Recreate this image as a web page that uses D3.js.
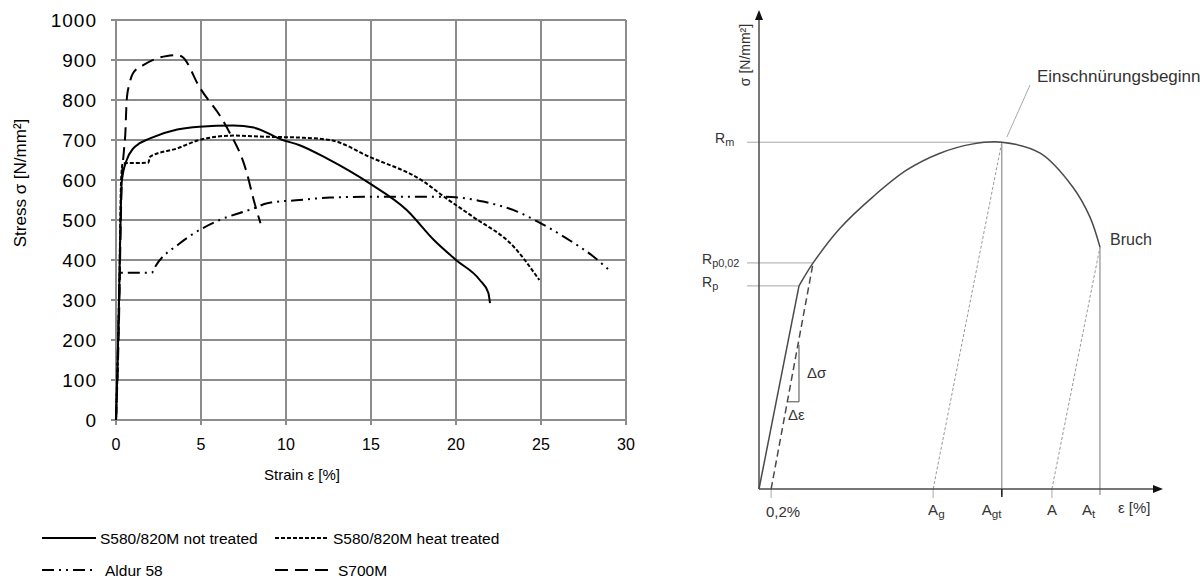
<!DOCTYPE html>
<html>
<head>
<meta charset="utf-8">
<script src="https://cdn.jsdelivr.net/npm/d3@7"></script>
<style>
  body { margin: 0; background: #fff; }
  svg { display: block; font-family: "Liberation Sans", Arial, sans-serif; }
</style>
</head>
<body>
<svg id="chart" width="1200" height="583"></svg>
<script>
// ---- left chart: measured curves [strain %, stress N/mm²] ----
const notTreated = [[0,0],[0.1,150],[0.2,350],[0.3,560],[0.35,600],[0.63,650],[1.02,679],[1.4,692],[2.0,704],[3.6,726],[4.9,733],[6.9,736],[8.1,731],[9.8,700],[10.8,687],[12.4,654],[14.9,592],[17.1,525],[18.7,450],[20.0,400],[21.4,350],[21.9,318],[22.0,292]];
const heatTreated = [[0,0],[0.1,150],[0.2,350],[0.3,600],[0.4,642],[1.9,643],[2.0,658],[3.6,679],[4.9,700],[6.9,711],[8.9,708],[10.8,706],[12.6,700],[14.9,658],[18.1,596],[19.3,558],[21.0,508],[23.4,433],[24.9,350]];
const aldur58 = [[0,0],[0.1,150],[0.2,330],[0.24,368],[2.1,368],[2.3,383],[3.7,440],[4.6,467],[6.1,500],[8.1,529],[8.9,542],[10.8,550],[12.6,556],[14.8,558],[19.4,558],[21.6,546],[23.6,521],[24.8,496],[26.5,454],[28.1,408],[29.0,375]];
const s700m = [[0,0],[0.15,200],[0.33,583],[0.47,675],[0.55,717],[0.63,800],[0.8,842],[1.0,867],[1.6,887],[2.4,904],[3.0,910],[3.6,912],[3.9,908],[4.9,833],[6.5,733],[7.7,617],[8.1,550],[8.5,492]];

const seriesNames = ["S580/820M not treated", "S580/820M heat treated", "Aldur 58", "S700M"];
const xTicks = [0, 5, 10, 15, 20, 25, 30];
const yTicks = [0, 100, 200, 300, 400, 500, 600, 700, 800, 900, 1000];

// ---- right chart: schematic curve (arbitrary units 0..100) ----
const elasticLine = [[0,0],[9.9,42.4]];
const plasticCurve = [[9.9,42.4],[13.4,47.2],[20.0,54.4],[28.2,61.0],[36.6,66.6],[44.8,70.1],[52.7,72.0],[60.1,72.4],[69.6,70.1],[77.7,63.0],[81.9,56.8],[84.4,50.5]];
const offsetStart = 3.0;   // 0,2 %
const agStart = 43.1;      // Ag
const aStart = 72.5;       // A
const rp = [9.9, 42.4];
const rp002 = [13.4, 47.2];
const peak = [60.1, 72.4];
const bruch = [84.4, 50.5];

const svg = d3.select("#chart");

// ================= left chart =================
function drawStressStrain() {
  const x = d3.scaleLinear().domain([0, 30]).range([116, 626]);
  const y = d3.scaleLinear().domain([0, 1000]).range([420, 20]);
  const g = svg.append("g");
  const gridColor = "#8c8c8c";

  // grid
  g.selectAll(".hgrid").data(yTicks).join("line")
    .attr("x1", x(0) - 5).attr("x2", x(30))
    .attr("y1", d => y(d)).attr("y2", d => y(d))
    .attr("stroke", gridColor).attr("stroke-width", 2);
  g.selectAll(".vgrid").data(xTicks).join("line")
    .attr("x1", d => x(d)).attr("x2", d => x(d))
    .attr("y1", y(1000)).attr("y2", y(0) + 5)
    .attr("stroke", gridColor).attr("stroke-width", 2);

  // tick labels
  g.selectAll(".ylab").data(yTicks).join("text")
    .attr("x", 97).attr("y", d => y(d))
    .attr("dy", "0.36em").attr("text-anchor", "end")
    .attr("font-size", 19).attr("letter-spacing", 1)
    .text(d => d);
  g.selectAll(".xlab").data(xTicks).join("text")
    .attr("x", d => x(d)).attr("y", 444)
    .attr("dy", "0.36em").attr("text-anchor", "middle")
    .attr("font-size", 16)
    .text(d => d);

  // axis titles
  g.append("text")
    .attr("transform", "translate(20,183) rotate(-90)")
    .attr("text-anchor", "middle").attr("dy", "0.36em")
    .attr("font-size", 17)
    .text("Stress σ [N/mm²]");
  g.append("text")
    .attr("x", 302).attr("y", 475).attr("dy", "0.36em")
    .attr("text-anchor", "middle").attr("font-size", 15)
    .text("Strain ε [%]");

  const line = d3.line().x(d => x(d[0])).y(d => y(d[1])).curve(d3.curveMonotoneX);
  const styles = [
    { data: notTreated, dash: null },
    { data: heatTreated, dash: "4,2" },
    { data: aldur58, dash: "12,5,2,5,2,5" },
    { data: s700m, dash: "13,7" }
  ];
  g.selectAll(".curve").data(styles).join("path")
    .attr("d", d => line(d.data))
    .attr("fill", "none").attr("stroke", "#000").attr("stroke-width", 2)
    .attr("stroke-dasharray", d => d.dash);

  // legend
  const legendPos = [[42, 538], [275, 538], [42, 570], [275, 570]];
  const leg = g.selectAll(".legend").data(styles).join("g")
    .attr("transform", (d, i) => `translate(${legendPos[i][0]},${legendPos[i][1]})`);
  leg.append("line")
    .attr("x1", 0).attr("x2", 54).attr("y1", 0).attr("y2", 0)
    .attr("stroke", "#000").attr("stroke-width", 2)
    .attr("stroke-dasharray", d => d.dash);
  leg.append("text")
    .attr("x", (d, i) => (i < 2 ? 58 : 63)).attr("y", 0).attr("dy", "0.36em")
    .attr("font-size", 15.5)
    .text((d, i) => seriesNames[i]);
}

// ================= right chart =================
function drawSchematic() {
  const xs = d3.scaleLinear().domain([0, 100]).range([759, 1163]);
  const ys = d3.scaleLinear().domain([0, 100]).range([489, 10]);
  const g = svg.append("g");
  const dark = "#4a4a4a", light = "#a8a8a8";

  // helper lines to the y axis
  [peak, rp002, rp].forEach(p => {
    g.append("line")
      .attr("x1", 747).attr("x2", xs(p[0]))
      .attr("y1", ys(p[1])).attr("y2", ys(p[1]))
      .attr("stroke", light).attr("stroke-width", 1);
  });

  // verticals Agt, At
  [peak, bruch].forEach(p => {
    g.append("line")
      .attr("x1", xs(p[0])).attr("x2", xs(p[0]))
      .attr("y1", ys(p[1])).attr("y2", ys(0) + 6)
      .attr("stroke", "#777").attr("stroke-width", 1);
  });

  // unloading lines Ag, A (fine dashes)
  [[agStart, peak], [aStart, bruch]].forEach(([s, p]) => {
    g.append("line")
      .attr("x1", xs(s)).attr("y1", ys(0))
      .attr("x2", xs(p[0])).attr("y2", ys(p[1]))
      .attr("stroke", "#999").attr("stroke-width", 1)
      .attr("stroke-dasharray", "3,2");
  });

  // small ticks below axis
  [offsetStart, agStart, aStart].forEach(s => {
    g.append("line")
      .attr("x1", xs(s)).attr("x2", xs(s))
      .attr("y1", ys(0)).attr("y2", ys(0) + 9)
      .attr("stroke", "#aaa").attr("stroke-width", 1);
  });

  // 0,2 % offset line
  g.append("line")
    .attr("x1", xs(offsetStart)).attr("y1", ys(0))
    .attr("x2", xs(rp002[0])).attr("y2", ys(rp002[1]))
    .attr("stroke", dark).attr("stroke-width", 1.5)
    .attr("stroke-dasharray", "7,4");

  // delta triangle
  const triY = 18.2, triTop = 30.1;
  const triXLeft = offsetStart + (rp002[0] - offsetStart) * triY / rp002[1];
  g.append("path")
    .attr("d", `M${xs(rp[0])},${ys(triTop)}V${ys(triY)}H${xs(triXLeft)}`)
    .attr("fill", "none").attr("stroke", dark).attr("stroke-width", 1);

  // curve
  const line = d3.line().x(d => xs(d[0])).y(d => ys(d[1]));
  g.append("path").attr("d", line(elasticLine))
    .attr("fill", "none").attr("stroke", dark).attr("stroke-width", 1.5);
  g.append("path").attr("d", line.curve(d3.curveCatmullRom)(plasticCurve))
    .attr("fill", "none").attr("stroke", dark).attr("stroke-width", 1.5);

  // pointer Einschnürungsbeginn
  g.append("line")
    .attr("x1", 1030).attr("y1", 85).attr("x2", xs(peak[0]) + 5).attr("y2", ys(peak[1]) - 5)
    .attr("stroke", "#aaa").attr("stroke-width", 1);

  // axes with arrows
  g.append("line")
    .attr("x1", xs(0)).attr("x2", xs(0)).attr("y1", ys(0)).attr("y2", 18)
    .attr("stroke", dark).attr("stroke-width", 1.5);
  g.append("path").attr("d", `M${xs(0)},10L${xs(0) - 4},20L${xs(0) + 4},20Z`).attr("fill", "#111");
  g.append("line")
    .attr("x1", xs(0)).attr("x2", 1155).attr("y1", ys(0)).attr("y2", ys(0))
    .attr("stroke", dark).attr("stroke-width", 1.5);
  g.append("path").attr("d", `M1163,${ys(0)}L1153,${ys(0) - 4}L1153,${ys(0) + 4}Z`).attr("fill", "#111");
  g.append("line")
    .attr("x1", xs(peak[0])).attr("x2", xs(peak[0]))
    .attr("y1", ys(0)).attr("y2", ys(0) + 8)
    .attr("stroke", "#222").attr("stroke-width", 1.5);

  // labels
  const txt = (x, y, size, anchor) => g.append("text")
    .attr("x", x).attr("y", y).attr("dy", "0.36em")
    .attr("font-size", size).attr("text-anchor", anchor || "start")
    .attr("fill", "#333");

  g.append("text")
    .attr("transform", "translate(745,55) rotate(-90)")
    .attr("text-anchor", "middle").attr("dy", "0.36em")
    .attr("font-size", 14).attr("fill", "#333")
    .text("σ [N/mm²]");

  const sub = (t, main, s) => {
    t.append("tspan").text(main);
    t.append("tspan").attr("font-size", "0.78em").attr("dy", "0.25em").text(s);
  };
  sub(txt(715, ys(peak[1]) - 4, 14), "R", "m");
  sub(txt(702, ys(rp002[1]) - 4, 14), "R", "p0,02");
  sub(txt(702, ys(rp[1]) - 4, 14), "R", "p");

  txt(1037, 76, 17).text("Einschnürungsbeginn");
  txt(1110, ys(bruch[1]) - 8, 16).text("Bruch");
  txt(807, ys(24.3), 15).text("Δσ");
  txt(788, ys(15.6), 15).text("Δε");

  txt(766, 512, 15).text("0,2%");
  sub(txt(xs(agStart) - 5, 510, 15), "A", "g");
  sub(txt(xs(peak[0]) - 20, 510, 15), "A", "gt");
  txt(xs(aStart), 510, 15, "middle").text("A");
  sub(txt(xs(bruch[0]) - 18, 510, 15), "A", "t");
  txt(1118, 508, 15).text("ε [%]");
}

drawStressStrain();
drawSchematic();
</script>
</body>
</html>
